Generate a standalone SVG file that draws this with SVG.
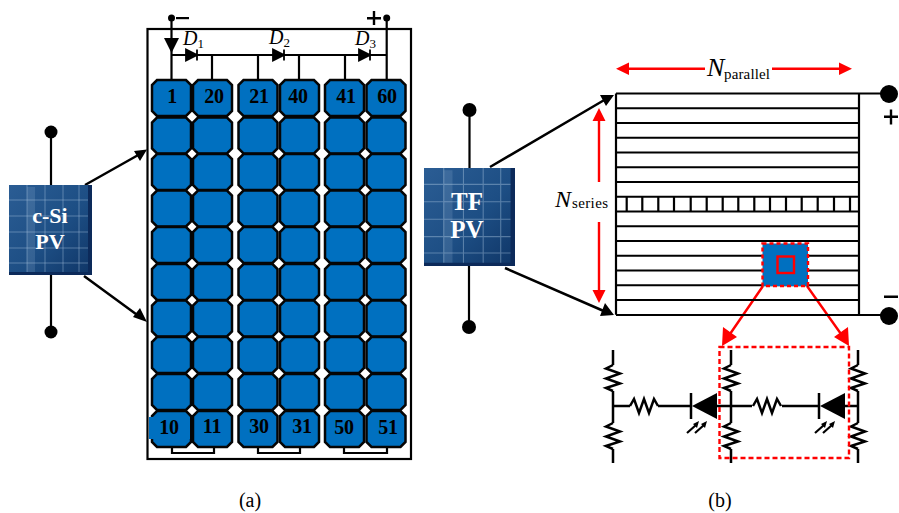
<svg xmlns="http://www.w3.org/2000/svg" xmlns:xlink="http://www.w3.org/1999/xlink" width="899" height="513" viewBox="0 0 899 513">
<style>
text{font-family:"Liberation Serif","Times New Roman",serif;fill:#000}
.cell{fill:#0070c0;stroke:#050505;stroke-width:2.500}
.num{font-size:20px;font-weight:bold;text-anchor:middle;fill:#000;letter-spacing:-.3px}
.w{fill:none;stroke:#000;stroke-width:2.200}
.w3{fill:none;stroke:#000;stroke-width:2.500}
.r{fill:none;stroke:#ff0000;stroke-width:2.400}
.pvt{font-weight:bold;fill:#fff;text-anchor:middle}
.g{stroke:#b7cfe6;stroke-width:1;opacity:.4;fill:none}
.cap{font-size:20px;text-anchor:middle}
</style>
<defs>
<linearGradient id="pv" x1="0" y1="0" x2="1" y2="1"><stop offset="0" stop-color="#2b5d94"/><stop offset=".55" stop-color="#1d4e84"/><stop offset="1" stop-color="#0f3566"/></linearGradient>
<path id="c" class="cell" d="M5 0H34L39 5V31L34 36H5L0 31V5Z"/>
<path id="dio" d="M-6-5.500V5.500L5 0ZM5-5.500V5.500" fill="#000" stroke="#000" stroke-width="1.800"/>
<path id="rv" class="w3" d="M0 0L-7 3.500 7 8.500-7 13.500 7 18.500-7 23 0 26"/>
<path id="rh" class="w3" d="M0 0L4-7 9 7 14-7 19 7 24-7 28 0"/>
<g id="led"><path d="M0 0V26" class="w3"/><path d="M1 13L26 0V26Z" fill="#000"/><path d="M-4 40L5 32M4 40L13 32" class="w"/><path d="M8 28L2 31 6 35ZM16 28L10 31 14 35Z" fill="#000"/></g>
<g id="panelart">
<path class="g" d="M0 15H83M0 31H83M0 47H83M0 63H83M0 78H83M18 0V90M36 0V90M54 0V90M70 0V90"/>
<path d="M18 2h8v86h-8z" fill="#b7cfe6" opacity=".16"/>
<path d="M79 0h4v90h-83v-3h79z" fill="#0c2a5a"/>
</g>
</defs>

<g id="connectors">
<path class="w" d="M171.500 18V80M171.500 55H386.700M212 55V80M258 55V80M299 55V80M345 55V80M386.700 18V80"/>
<path class="w" d="M172 447V453H214V447M258 447V453H300V447M344 447V453H387V447"/>
<path d="M164 38H179L171.500 53Z" fill="#000"/>
<use xlink:href="#dio" href="#dio" x="192" y="55"/>
<use xlink:href="#dio" href="#dio" x="279" y="55"/>
<use xlink:href="#dio" href="#dio" x="365" y="55"/>

<path class="w" d="M51 132V185M51 275V332M469.500 110V168M469 266V327"/>
<path class="w3" d="M85 185L140 154M84 276L140 317M490 167L606 99M505 268L606 312"/>
<path d="M147 149.500L134 151 140 161ZM147 322L133 317 140 308ZM614 95L600 95 606 106ZM614 315L605 303 600 316Z" fill="#000"/>

<g id="arrows-red">
<path class="r" d="M629 68.700H705M772 68.700H840M599 120V182M599 222V291M763 286L730 334M807 286L841 334"/>
<path d="M616 68.700L629 62.500V75ZM852 68.700L839 62.500V75ZM599 108L592.500 121H605.500ZM599 303L592.500 290H605.500ZM722 346L723 327 737 337ZM849 346L848 327 834 337Z" fill="#ff0000"/>
</g>

<g id="circuit">
<path class="w3" d="M613 350V365M613 391V423M613 449V463M731 350V365M731 391V423M731 449V463M858 350V365M858 391V423M858 449V463M613 406H630M658 406H691M717 406H752M782 406H819M844 406H858"/>
<use xlink:href="#rv" href="#rv" x="613" y="365"/>
<use xlink:href="#rv" href="#rv" x="613" y="423"/>
<use xlink:href="#rv" href="#rv" x="731" y="365"/>
<use xlink:href="#rv" href="#rv" x="731" y="423"/>
<use xlink:href="#rv" href="#rv" x="858" y="365"/>
<use xlink:href="#rv" href="#rv" x="858" y="423"/>
<use xlink:href="#rh" href="#rh" x="630" y="406"/>
<use xlink:href="#rh" href="#rh" x="753" y="406"/>
<use xlink:href="#led" href="#led" x="691" y="393"/>
<use xlink:href="#led" href="#led" x="819" y="393"/>
</g>
</g>

<g id="module-a">
<rect x="147.500" y="29" width="263.500" height="430" fill="none" stroke="#000" stroke-width="2.200"/>
</g>
<g id="cells">
<use href="#c" x="152" y="80"/><use href="#c" x="193" y="80"/><use href="#c" x="238.500" y="80"/><use href="#c" x="280" y="80"/><use href="#c" x="325" y="80"/><use href="#c" x="366.500" y="80"/>
<use href="#c" x="152" y="117.500"/><use href="#c" x="193" y="117.500"/><use href="#c" x="238.500" y="117.500"/><use href="#c" x="280" y="117.500"/><use href="#c" x="325" y="117.500"/><use href="#c" x="366.500" y="117.500"/>
<use href="#c" x="152" y="154"/><use href="#c" x="193" y="154"/><use href="#c" x="238.500" y="154"/><use href="#c" x="280" y="154"/><use href="#c" x="325" y="154"/><use href="#c" x="366.500" y="154"/>
<use href="#c" x="152" y="190.500"/><use href="#c" x="193" y="190.500"/><use href="#c" x="238.500" y="190.500"/><use href="#c" x="280" y="190.500"/><use href="#c" x="325" y="190.500"/><use href="#c" x="366.500" y="190.500"/>
<use href="#c" x="152" y="227"/><use href="#c" x="193" y="227"/><use href="#c" x="238.500" y="227"/><use href="#c" x="280" y="227"/><use href="#c" x="325" y="227"/><use href="#c" x="366.500" y="227"/>
<use href="#c" x="152" y="264"/><use href="#c" x="193" y="264"/><use href="#c" x="238.500" y="264"/><use href="#c" x="280" y="264"/><use href="#c" x="325" y="264"/><use href="#c" x="366.500" y="264"/>
<use href="#c" x="152" y="300.500"/><use href="#c" x="193" y="300.500"/><use href="#c" x="238.500" y="300.500"/><use href="#c" x="280" y="300.500"/><use href="#c" x="325" y="300.500"/><use href="#c" x="366.500" y="300.500"/>
<use href="#c" x="152" y="337"/><use href="#c" x="193" y="337"/><use href="#c" x="238.500" y="337"/><use href="#c" x="280" y="337"/><use href="#c" x="325" y="337"/><use href="#c" x="366.500" y="337"/>
<use href="#c" x="152" y="374"/><use href="#c" x="193" y="374"/><use href="#c" x="238.500" y="374"/><use href="#c" x="280" y="374"/><use href="#c" x="325" y="374"/><use href="#c" x="366.500" y="374"/>
<use href="#c" x="152" y="411"/><use href="#c" x="193" y="411"/><use href="#c" x="238.500" y="411"/><use href="#c" x="280" y="411"/><use href="#c" x="325" y="411"/><use href="#c" x="366.500" y="411"/>
<rect x="149" y="417" width="41" height="22" fill="#0070c0"/>
</g>
<g id="cell-labels">
<text class="num" x="172" y="103">1</text><text class="num" x="214" y="103">20</text><text class="num" x="259" y="103">21</text><text class="num" x="298" y="103">40</text><text class="num" x="346" y="103">41</text><text class="num" x="387" y="103">60</text>
<text class="num" x="169" y="434">10</text><text class="num" x="212" y="433">11</text><text class="num" x="259" y="433">30</text><text class="num" x="302" y="433">31</text><text class="num" x="344" y="434">50</text><text class="num" x="388" y="434">51</text>
</g>
<g id="diode-labels" font-size="20" font-style="italic">
<text x="183" y="45">D<tspan font-size="13" font-style="normal" dy="3">1</tspan></text>
<text x="269" y="44">D<tspan font-size="13" font-style="normal" dy="3">2</tspan></text>
<text x="355" y="45">D<tspan font-size="13" font-style="normal" dy="3">3</tspan></text>
</g>
<g id="terminals-a">
<circle cx="171.500" cy="18" r="3.500"/><circle cx="386.700" cy="18" r="3.500"/>
<rect x="176" y="17" width="13" height="2.200"/>
<path d="M367 17H381V19.400H367ZM372.800 11H375.200V25H372.800Z"/>
</g>

<g id="pv-csi">
<circle cx="51" cy="132" r="6.500"/><circle cx="51" cy="332" r="6.500"/>
<rect x="9" y="185" width="83" height="90" fill="url(#pv)"/>
<use href="#panelart" x="9" y="185"/>
<text class="pvt" x="50" y="223" font-size="22">c-Si</text>
<text class="pvt" x="50" y="249" font-size="22">PV</text>
</g>
<g id="pv-tf">
<circle cx="469.500" cy="110" r="7"/><circle cx="469" cy="327" r="7"/>
<rect x="424" y="168" width="91" height="98" fill="url(#pv)"/>
<use href="#panelart" transform="translate(424 168) scale(1.096 1.089)"/>
<text class="pvt" x="467" y="210" font-size="25">TF</text>
<text class="pvt" x="467" y="238" font-size="25">PV</text>
</g>

<g id="module-b">
<path class="w" d="M616 93.500V314.800M859 93.500V314.800"/>
<path class="w" d="M616 93.500H889M616 108.250H859M616 123H859M616 137.750H859M616 152.500H859M616 167.250H859M616 182H859M616 196.750H859M616 211.500H859M616 226.250H859M616 241H859M616 255.750H859M616 270.500H859M616 285.250H859M616 300H859M616 315H889"/>
<path class="w" d="M626.700 197V212M642.300 197V212M658.300 197V212M674 197V212M690.700 197V212M706.700 197V212M722.700 197V212M738.300 197V212M754.300 197V212M770 197V212M786 197V212M801.700 197V212M817.700 197V212M834 197V212M850 197V212"/>
<circle cx="889" cy="94" r="9"/><circle cx="889" cy="316" r="9"/>
<path d="M884 115.500H898V118H884ZM889.800 109.500H892.200V124.500H889.800ZM884 295.500H898V298H884Z"/>
</g>
<g id="tf-zoom">
<rect x="762.500" y="243.500" width="45.500" height="42.500" fill="#0070c0" stroke="#ff0000" stroke-width="2.400" stroke-dasharray="4 3"/>
<rect x="777.500" y="256.500" width="16.500" height="16.500" fill="none" stroke="#ff0000" stroke-width="2.400"/>
<rect x="719.500" y="347" width="129.500" height="111" fill="none" stroke="#ff0000" stroke-width="2.400" stroke-dasharray="5 3"/>
</g>
<g id="axis-labels">
<text x="707" y="76" font-size="26" font-style="italic">N</text>
<text x="724" y="79" font-size="15" textLength="46">parallel</text>
<text x="555" y="207" font-size="24" font-style="italic">N</text>
<text x="572" y="208" font-size="15" textLength="36">series</text>
<text class="cap" x="250" y="507">(a)</text>
<text class="cap" x="720" y="507">(b)</text>
</g>
</svg>
